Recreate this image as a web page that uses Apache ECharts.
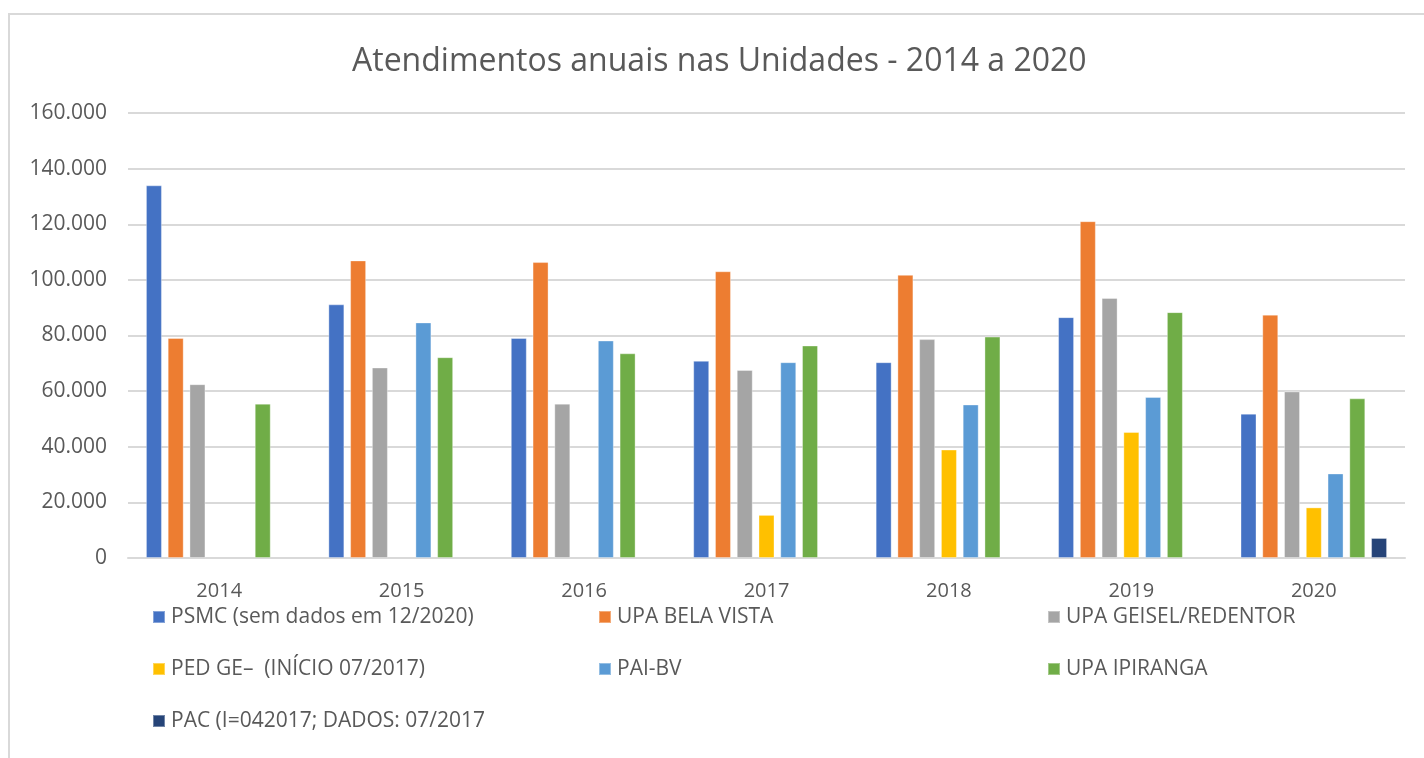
<!DOCTYPE html>
<html>
<head>
<meta charset="utf-8">
<script src="https://cdn.jsdelivr.net/npm/echarts@6/dist/echarts.min.js"></script>
<style>
html,body{margin:0;padding:0;background:#fff;}
#chart{width:1424px;height:758px;}
</style>
</head>
<body>
<div id="chart"></div>
<script>
const years = ['2014','2015','2016','2017','2018','2019','2020'];
const seriesNames = [
  'PSMC (sem dados em 12/2020)',
  'UPA BELA VISTA',
  'UPA GEISEL/REDENTOR',
  'PED GE–  (INÍCIO 07/2017)',
  'PAI-BV',
  'UPA IPIRANGA',
  'PAC (I=042017; DADOS: 07/2017'
];
const psmc      = [134000, 91200, 79100, 70900, 70400, 86600, 51900];
const belaVista = [79100, 107000, 106400, 103100, 101800, 121100, 87500];
const geisel    = [62500, 68500, 55500, 67600, 78700, 93500, 59900];
const pedGe     = [null, null, null, 15500, 39000, 45300, 18200];
const paiBv     = [null, 84700, 78200, 70400, 55200, 57900, 30400];
const ipiranga  = [55500, 72200, 73600, 76400, 79600, 88400, 57400];
const pac       = [null, null, null, null, null, null, 7200];
const yTicks = [0, 20000, 40000, 60000, 80000, 100000, 120000, 140000, 160000];

const colors = ['#4472C4','#ED7D31','#A5A5A5','#FFC000','#5B9BD5','#70AD47','#264478'];
const values = [psmc, belaVista, geisel, pedGe, paiBv, ipiranga, pac];
const textColor = '#595959';
const fontFamily = '"Open Sans", "Noto Sans", sans-serif';

function fmt(v){
  return String(v).replace(/\B(?=(\d{3})+(?!\d))/g, '.');
}

const chart = echarts.init(document.getElementById('chart'), null, {renderer:'canvas'});
const legendCommon = {
  orient: 'vertical',
  top: 606,
  padding: 0,
  itemWidth: 12,
  itemHeight: 12,
  itemGap: 30,
  icon: 'rect',
  textStyle: {color: textColor, fontSize: 21, fontFamily: fontFamily, lineHeight: 22, padding:[0,0,0,1]}
};
chart.setOption({
  animation: false,
  color: colors,
  title: {
    text: 'Atendimentos anuais nas Unidades - 2014 a 2020',
    left: 352,
    top: 46,
    padding: 0,
    textStyle: {color: textColor, fontSize: 32, fontWeight: 'normal', fontFamily: fontFamily}
  },
  graphic: [{
    type: 'rect',
    shape: {x: 9, y: 14, width: 1440, height: 780},
    style: {fill: 'none', stroke: '#d9d9d9', lineWidth: 2},
    silent: true
  }],
  legend: [
    Object.assign({left: 152, data: [seriesNames[0], seriesNames[3], seriesNames[6]]}, legendCommon),
    Object.assign({left: 598, data: [seriesNames[1], seriesNames[4]]}, legendCommon),
    Object.assign({left: 1047, data: [seriesNames[2], seriesNames[5]]}, legendCommon)
  ],
  grid: {left: 128, right: 19, top: 113, bottom: 200, containLabel: false},
  xAxis: {
    type: 'category',
    data: years,
    axisLine: {lineStyle: {color: '#d9d9d9', width: 2}},
    axisTick: {show: false},
    axisLabel: {color: textColor, fontSize: 20, fontFamily: fontFamily, margin: 23}
  },
  yAxis: {
    type: 'value',
    min: yTicks[0],
    max: yTicks[yTicks.length-1],
    interval: 20000,
    axisLine: {show: false},
    axisTick: {show: false},
    axisLabel: {color: textColor, fontSize: 21, fontFamily: fontFamily, margin: 21, formatter: fmt},
    splitLine: {lineStyle: {color: '#d9d9d9', width: 2}}
  },
  series: seriesNames.map((n, i) => ({
    name: n,
    type: 'bar',
    data: values[i],
    barWidth: 16,
    barGap: '36%',
    itemStyle: {color: colors[i], borderColor: 'rgba(255,255,255,0.35)', borderWidth: 1}
  }))
});
</script>
</body>
</html>
